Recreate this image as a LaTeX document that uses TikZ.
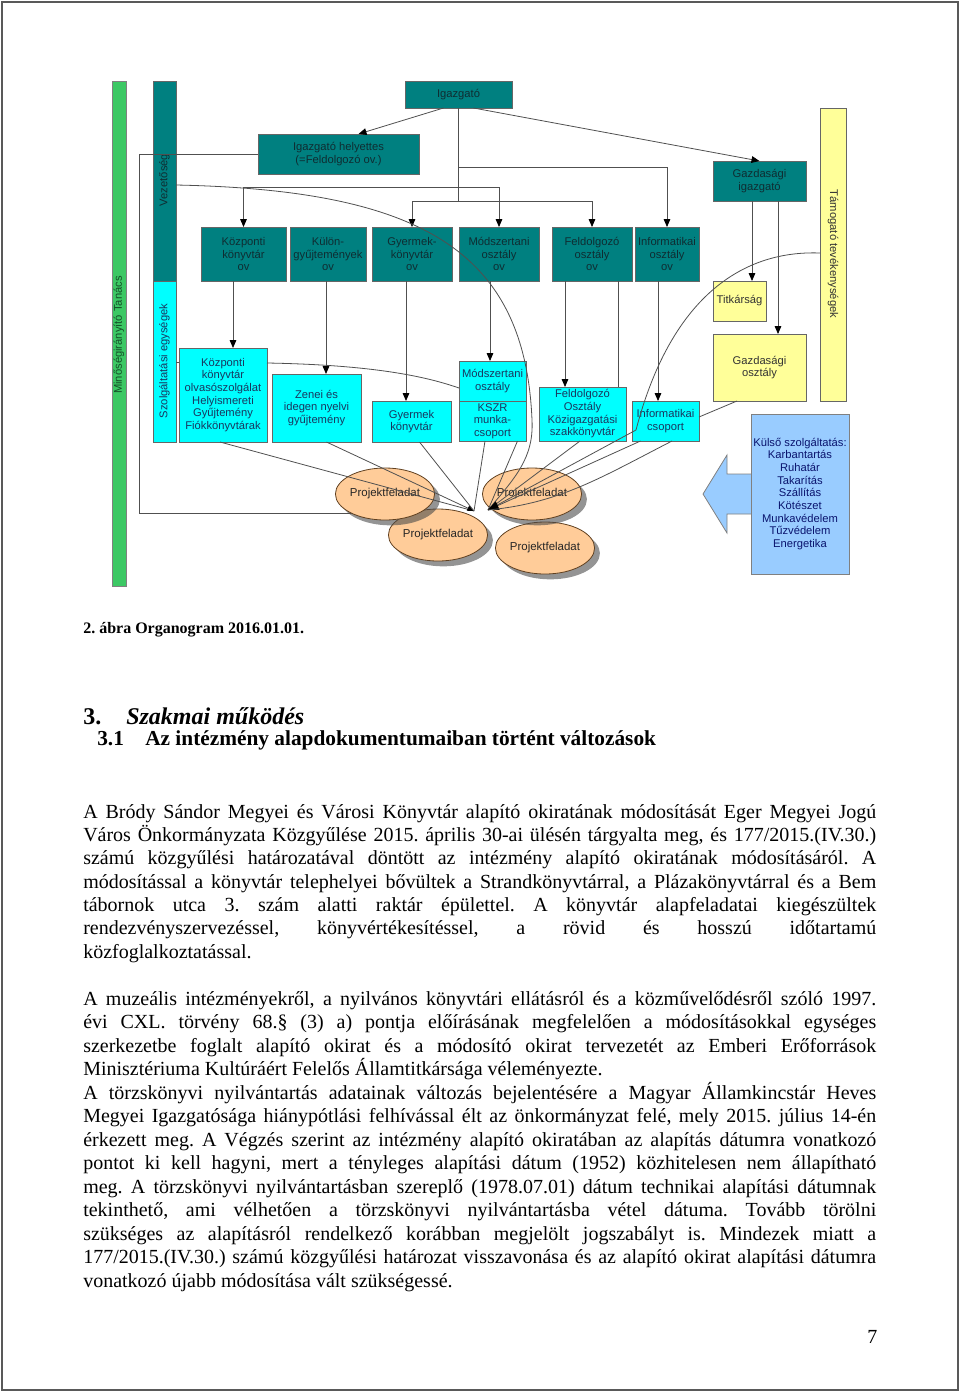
\documentclass[tikz,border=0pt]{standalone}
\usepackage{fontspec}
\setmainfont{Liberation Serif}
\newfontfamily\dg{Liberation Sans}
\usetikzlibrary{arrows.meta,shapes.geometric,calc,shadows}
\definecolor{tealc}{RGB}{0,128,128}
\definecolor{cyanc}{RGB}{0,255,255}
\definecolor{yelc}{RGB}{255,255,153}
\definecolor{bluec}{RGB}{153,204,255}
\definecolor{greenc}{RGB}{60,200,100}
\definecolor{peachc}{RGB}{255,204,153}
\definecolor{tealtxt}{RGB}{15,45,50}
\definecolor{cyantxt}{RGB}{25,55,95}
\definecolor{navytxt}{RGB}{10,20,110}
\definecolor{greentxt}{RGB}{20,80,40}
\definecolor{linec}{RGB}{80,80,80}
\newcommand\mybox[7]{\node[#6, minimum width={(#4-#2)*0.75pt}, minimum height={(#5-#3)*0.75pt}] (#1) at ({(#2+#4)/2},{(#3+#5)/2}) {#7};}
\newcommand\jline[3]{\node[para] (#1) at (83,#2) {\makebox[594.75pt][s]{#3}};}
\newcommand\lline[3]{\node[para] (#1) at (83,#2) {#3};}
\frenchspacing
\begin{document}
\begin{tikzpicture}[x=0.75pt,y=-0.75pt,
  box/.style={draw=black!60, line width=0.6pt, inner sep=0pt, outer sep=0pt, align=center,
    font=\dg\fontsize{8.4}{9.5}\selectfont},
  tbox/.style={box, fill=tealc, text=tealtxt},
  cbox/.style={box, fill=cyanc, text=cyantxt},
  ybox/.style={box, fill=yelc, text=black!80},
  vtxt/.style={font=\dg\fontsize{8.4}{9.5}\selectfont, inner sep=0pt},
  ln/.style={draw=linec, line width=0.6pt},
  arr/.style={ln, -{Triangle[length=6pt,width=5pt,color=black]}},
  arrA/.style={ln, -{Triangle[length=5pt,width=4pt,color=black]}},
  arrB/.style={ln, -{Triangle[length=8pt,width=7pt,color=black]}},
  ell/.style={ellipse, draw=black!50!brown, line width=0.6pt, fill=peachc,
    minimum width=70.5pt, minimum height=39pt, inner sep=0pt,
    font=\dg\fontsize{8.6}{10}\selectfont, text=black!85,
    drop shadow={shadow xshift=4pt, shadow yshift=-4pt, fill=black!70, opacity=0.6}},
  para/.style={anchor=base west, inner sep=0pt, font=\fontsize{15}{18}\selectfont}
]
\useasboundingbox (0,0) rectangle (960,1393);
\draw[black!65, line width=1pt] (2,2) rectangle (958,1390);

% ---------- boxes ----------
\mybox{mt}{112}{81}{126}{586}{box, fill=greenc, draw=black!50}{}
\node[vtxt, rotate=90, text=greentxt] (mtt) at (119,335) {Minőségirányító Tanács};
\mybox{vez}{153}{81}{176}{281}{tbox}{}
\node[vtxt, rotate=90, text=tealtxt] (vezt) at (164.5,180) {Vezetőség};
\mybox{szb}{153}{281}{176}{442}{cbox}{}
\node[vtxt, rotate=90, text=cyantxt] (szbt) at (164.5,361) {Szolgáltatási egységek};
\mybox{tam}{820}{108}{846}{401}{ybox}{}
\node[vtxt, rotate=-90, text=black!80] (tamt) at (833,254) {Támogató tevékenységek};

\mybox{ig}{405}{81}{512}{108}{tbox}{Igazgató}
\mybox{hely}{258}{134}{419}{174}{tbox}{Igazgató helyettes\\(=Feldolgozó ov.)}
\mybox{gi}{713}{161}{806}{201}{tbox}{Gazdasági\\igazgató}
\mybox{kov}{201}{227}{286}{281}{tbox}{Központi\\könyvtár\\ov}
\mybox{kul}{290}{227}{366}{281}{tbox}{Külön-\\gyűjtemények\\ov}
\mybox{gov}{372}{227}{452}{281}{tbox}{Gyermek-\\könyvtár\\ov}
\mybox{mov}{459}{227}{539}{281}{tbox}{Módszertani\\osztály\\ov}
\mybox{fov}{552}{227}{632}{281}{tbox}{Feldolgozó\\osztály\\ov}
\mybox{iov}{635}{227}{699}{281}{tbox}{Informatikai\\osztály\\ov}

\mybox{kk2}{179}{348}{267}{442}{cbox}{Központi\\könyvtár\\olvasószolgálat\\Helyismereti\\Gyűjtemény\\Fiókkönyvtárak}
\mybox{zen}{272}{374}{361}{442}{cbox}{Zenei és\\idegen nyelvi\\gyűjtemény}
\mybox{gyk}{372}{401}{451}{442}{cbox}{Gyermek\\könyvtár}
\mybox{msz2}{459}{361}{526}{401}{cbox}{Módszertani\\osztály}
\mybox{ksz}{459}{401}{526}{441}{cbox}{KSZR\\munka-\\csoport}
\mybox{fo2}{539}{387}{626}{441}{cbox}{Feldolgozó\\Osztály\\Közigazgatási\\szakkönyvtár}
\mybox{ic}{632}{401}{699}{441}{cbox}{Informatikai\\csoport}

\mybox{titk}{713}{281}{766}{321}{ybox}{Titkárság}
\mybox{go}{713}{334}{806}{401}{ybox}{Gazdasági\\osztály}

% big left arrow and outsourced services
\draw[fill=bluec, draw=black!50, line width=0.6pt] (751,474) -- (727,474) -- (727,455) -- (703,494) -- (727,533) -- (727,514) -- (751,514);
\mybox{kul2}{751}{414}{849}{574}{box, fill=bluec, draw=black!50, text=navytxt}{Külső szolgáltatás:\\Karbantartás\\Ruhatár\\Takarítás\\Szállítás\\Kötészet\\Munkavédelem\\Tűzvédelem\\Energetika}

% ---------- tree connectors ----------
\draw[ln] (ig.south) -- (ig.south |- 0,201);
\draw[arr] (ig.south |- 0,167) -| (iov.north);
\draw[arr] (ig.south |- 0,187) -| (kov.north);
\draw[arr] (ig.south |- 0,187) -| (mov.north);
\draw[arr] (ig.south |- 0,201) -| (gov.north);
\draw[arr] (ig.south |- 0,201) -| (fov.north);
\draw[arr] ($(ig.south)+(-15,0)$) -- ($(hely.north)+(20,0)$);
\draw[arr] ($(ig.south)+(15,0)$) -- (gi.north);
\draw[arr] ($(gi.south)+(-7.5,0)$) coordinate (g1) -- (g1 |- titk.north);
\draw[arr] ($(gi.south)+(18.5,0)$) coordinate (g2) -- (g2 |- go.north);

\draw[arr] ($(kov.south)+(-10.5,0)$) coordinate (c1) -- (c1 |- kk2.north);
\draw[arr] ($(kul.south)+(-2,0)$) coordinate (c2) -- (c2 |- zen.north);
\draw[arr] ($(gov.south)+(-6,0)$) coordinate (c3) -- (c3 |- gyk.north);
\draw[arr] ($(mov.south)+(-9,0)$) coordinate (c4) -- (c4 |- msz2.north);
\draw[arr] ($(fov.south)+(-27,0)$) coordinate (c5) -- (c5 |- fo2.north);
\draw[ln] ($(fov.south)+(26,0)$) coordinate (c6) -- (c6 |- fo2.north);
\draw[arr] ($(iov.south)+(-9,0)$) coordinate (c7) -- (c7 |- ic.north);

\draw[ln] (szb.east |- 0,362) -- (kk2.west |- 0,362);
\draw[ln] (kk2.east |- 0,363) .. controls (380,365) and (430,378) .. (msz2.west |- 0,388);
\draw[ln] ($(go.south west)+(24,0)$) -- ($(ic.east)+(0,-4)$);

% line from deputy director down to the projects
\coordinate (pfin) at (360,513);
\draw[ln] (hely.west) -| (139,513) -- (pfin);

% ---------- project ellipses ----------
\node[ell] (pf2) at (438,535) {Projektfeladat};
\node[ell] (pf4) at (545,548) {Projektfeladat};
\node[ell] (pf1) at (385,494) {Projektfeladat};
\node[ell] (pf3) at (532,494) {Projektfeladat};

% ---------- converging connectors ----------
\coordinate (A1) at (474,511);
\coordinate (A2) at (488,510);
\draw[ln] (vez.east |- 0,185) .. controls (420,190) and (525,250) .. (532,420) .. controls (534,458) and (515,478) .. (A2);
\draw[ln] (tam.west |- 0,253) .. controls (740,250) and (670,300) .. (636,430) -- (A2);
\draw[ln] ($(kk2.south)+(-3,0)$) -- (A1);
\draw[arrA] ($(zen.south)+(10,0)$) -- (A1);
\draw[ln] ($(gyk.south)+(8,0)$) -- (A1);
\draw[ln] ($(ksz.south)+(-7.5,0)$) -- (A1);
\draw[ln] ($(ksz.south)+(25,0)$) -- (A2);
\draw[ln] ($(fo2.south)+(-2.5,0)$) -- (A2);
\draw[arrB] ($(ic.south)+(-25,0)$) -- (A2);
\draw[ln] ($(ic.south)+(6.5,0)$) .. controls (600,478) and (560,503) .. (A2);

% ---------- text ----------
\node[anchor=base west, inner sep=0pt, font=\bfseries\fontsize{12}{14}\selectfont] (cap) at (83,633) {2. ábra Organogram 2016.01.01.};
\node[anchor=base west, inner sep=0pt, font=\bfseries\fontsize{18}{21}\selectfont] (h3n) at (83,724) {3.};
\node[anchor=base west, inner sep=0pt, font=\bfseries\itshape\fontsize{18}{21}\selectfont] (h3) at (126,724) {Szakmai működés};
\node[anchor=base west, inner sep=0pt, font=\bfseries\fontsize{16}{19}\selectfont] (h31n) at (97,745) {3.1};
\node[anchor=base west, inner sep=0pt, font=\bfseries\fontsize{16}{19}\selectfont] (h31) at (145,745) {Az intézmény alapdokumentumaiban történt változások};

\jline{pa1}{818}{A Bródy Sándor Megyei és Városi Könyvtár alapító okiratának módosítását Eger Megyei Jogú}
\jline{pa2}{841.3}{Város Önkormányzata Közgyűlése 2015. április 30-ai ülésén tárgyalta meg, és 177/2015.(IV.30.)}
\jline{pa3}{864.7}{számú közgyűlési határozatával döntött az intézmény alapító okiratának módosításáról. A}
\jline{pa4}{888}{módosítással a könyvtár telephelyei bővültek a Strandkönyvtárral, a Plázakönyvtárral és a Bem}
\jline{pa5}{911.3}{tábornok utca 3. szám alatti raktár épülettel. A könyvtár alapfeladatai kiegészültek}
\jline{pa6}{934.7}{rendezvényszervezéssel, könyvértékesítéssel, a rövid és hosszú időtartamú}
\lline{pa7}{958}{közfoglalkoztatással.}

\jline{pb1}{1005}{A muzeális intézményekről, a nyilvános könyvtári ellátásról és a közművelődésről szóló 1997.}
\jline{pb2}{1028.5}{évi CXL. törvény 68.§ (3) a) pontja előírásának megfelelően a módosításokkal egységes}
\jline{pb3}{1052}{szerkezetbe foglalt alapító okirat és a módosító okirat tervezetét az Emberi Erőforrások}
\lline{pb4}{1075.5}{Minisztériuma Kultúráért Felelős Államtitkársága véleményezte.}
\jline{pb5}{1099}{A törzskönyvi nyilvántartás adatainak változás bejelentésére a Magyar Államkincstár Heves}
\jline{pb6}{1122.5}{Megyei Igazgatósága hiánypótlási felhívással élt az önkormányzat felé, mely 2015. július 14-én}
\jline{pb7}{1146}{érkezett meg. A Végzés szerint az intézmény alapító okiratában az alapítás dátumra vonatkozó}
\jline{pb8}{1169.5}{pontot ki kell hagyni, mert a tényleges alapítási dátum (1952) közhitelesen nem állapítható}
\jline{pb9}{1193}{meg. A törzskönyvi nyilvántartásban szereplő (1978.07.01) dátum technikai alapítási dátumnak}
\jline{pb10}{1216.5}{tekinthető, ami vélhetően a törzskönyvi nyilvántartásba vétel dátuma. Tovább törölni}
\jline{pb11}{1240}{szükséges az alapításról rendelkező korábban megjelölt jogszabályt is. Mindezek miatt a}
\jline{pb12}{1263.5}{177/2015.(IV.30.) számú közgyűlési határozat visszavonása és az alapító okirat alapítási dátumra}
\lline{pb13}{1287}{vonatkozó újabb módosítása vált szükségessé.}

\node[anchor=base west, inner sep=0pt, font=\fontsize{15}{18}\selectfont] (pnum) at (867,1343) {7};
\end{tikzpicture}
\end{document}
